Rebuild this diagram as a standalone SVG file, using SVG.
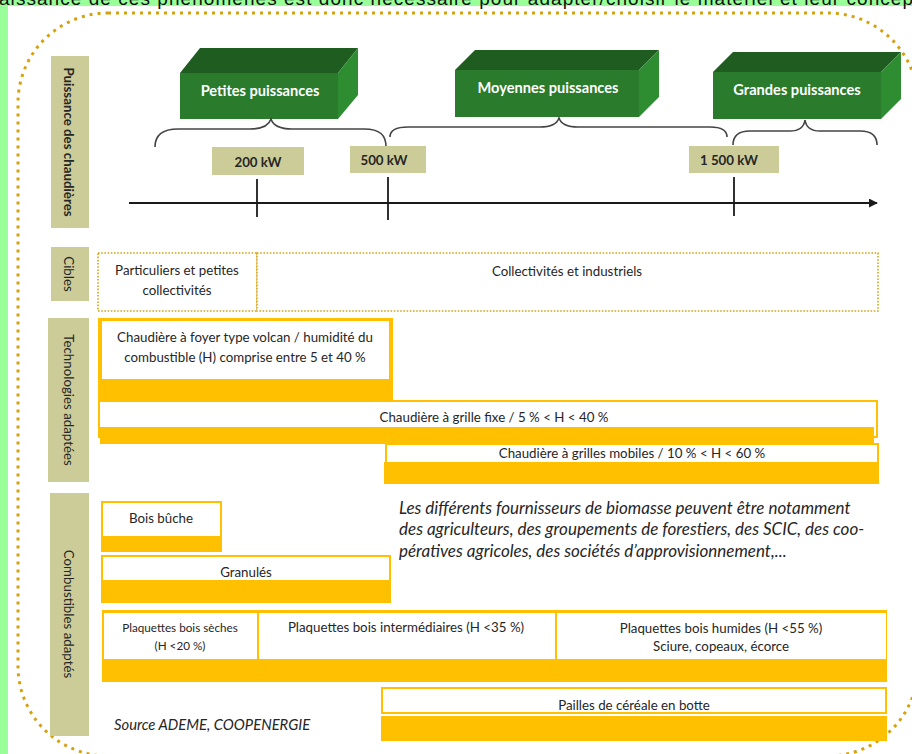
<svg xmlns="http://www.w3.org/2000/svg" width="912" height="754" viewBox="0 0 912 754">
<defs>
<style>
.t{font-family:Lato,"Liberation Sans",sans-serif;font-size:13.3px;fill:#262626;text-anchor:middle;dominant-baseline:central}
.b{font-weight:bold}
.w{fill:#ffffff;font-size:14.6px;font-weight:bold}
.it{font-family:Lato,"Liberation Sans",sans-serif;font-style:italic;font-size:17px;fill:#262626}
.side{fill:#cccc99}
.val{fill:#cccc99}
.gold{fill:#ffc000}
.gbox{fill:#ffffff;stroke:#ffc000;stroke-width:2}
.dot{fill:#ffffff;stroke:#d6a31a;stroke-width:1.6;stroke-dasharray:1.6 1.6}
.ftop{fill:#1f5c20}
.ffront{fill:#2a7b2b}
.fright{fill:#2f8d31}
.brace{fill:none;stroke:#444444;stroke-width:1.6}
.axis{stroke:#1a1a1a;stroke-width:1.8;fill:none}
</style>
<marker id="arr" viewBox="0 0 10 10" refX="9" refY="5" markerWidth="5" markerHeight="5" orient="auto" markerUnits="strokeWidth">
<path d="M0,0 L10,5 L0,10 Z" fill="#1a1a1a"/>
</marker>
</defs>

<rect x="0" y="0" width="912" height="754" fill="#99ff99"/>
<rect x="8" y="6" width="904" height="748" fill="#ffffff"/>
<text x="-1" y="5" textLength="914" lengthAdjust="spacing" style="font-family:'Liberation Sans',sans-serif;font-size:19px;fill:#111">aissance de ces phénomènes est donc nécessaire pour adapter/choisir le matériel et leur concep</text>

<rect x="18" y="13" width="900" height="743" rx="90" ry="90" fill="none" stroke="#d4a20f" stroke-width="3" stroke-dasharray="3 5"/>

<!-- side labels -->
<g id="side-puissance">
<rect class="side" x="51" y="56" width="38" height="172"/>
<text class="t b" transform="translate(69,142) rotate(90)">Puissance des chaudières</text>
</g>
<g id="side-cibles">
<rect class="side" x="51" y="247" width="38" height="54"/>
<text class="t" transform="translate(69,274) rotate(90)">Cibles</text>
</g>
<g id="side-techno">
<rect class="side" x="48" y="318" width="41" height="164"/>
<text class="t" transform="translate(69,400) rotate(90)">Technologies adaptées</text>
</g>
<g id="side-combustibles">
<rect class="side" x="50" y="493" width="39" height="243"/>
<text class="t" transform="translate(69,614) rotate(90)">Combustibles adaptés</text>
</g>

<!-- 3D boxes -->
<g id="box-petites">
<polygon class="ftop" points="180,73 200,48 358,48 338,73"/>
<polygon class="fright" points="338,73 358,48 358,95 338,119"/>
<rect class="ffront" x="180" y="73" width="158" height="46"/>
<text class="t w" x="260" y="90">Petites puissances</text>
</g>
<g id="box-moyennes">
<polygon class="ftop" points="455,70 475,50 659,50 639,70"/>
<polygon class="fright" points="639,70 659,50 659,97 639,117"/>
<rect class="ffront" x="455" y="70" width="184" height="47"/>
<text class="t w" x="548" y="87">Moyennes puissances</text>
</g>
<g id="box-grandes">
<polygon class="ftop" points="713,72 733,52 901,52 881,72"/>
<polygon class="fright" points="881,72 901,52 901,99 881,119"/>
<rect class="ffront" x="713" y="72" width="168" height="47"/>
<text class="t w" x="797" y="89">Grandes puissances</text>
</g>

<!-- connectors: braces, axis, ticks -->
<g id="connectors">
<path class="brace" d="M155,147 C155,135 162,129 178,129 L250,129 C262,129 269,125 271,119 C273,125 280,129 292,129 L364,129 C380,129 386,135 386,147"/>
<path class="brace" d="M390,137 C390,131 396,127 408,127 L540,127 C552,127 557,124 559,118 C561,124 566,127 578,127 L710,127 C722,127 727,131 727,137"/>
<path class="brace" d="M733,145 C733,136 738,131 750,131 L790,131 C800,131 804,127 805,120 C806,127 810,131 820,131 L860,131 C872,131 877,136 877,145"/>
<line class="axis" x1="129" y1="203" x2="877" y2="203" marker-end="url(#arr)"/>
<line class="axis" x1="257" y1="179" x2="257" y2="217"/>
<line class="axis" x1="388" y1="177" x2="388" y2="220"/>
<line class="axis" x1="734" y1="177" x2="734" y2="216"/>
</g>

<!-- values -->
<g id="v200">
<rect class="val" x="212" y="147" width="92" height="28"/>
<text class="t b" x="258" y="162">200 kW</text>
</g>
<g id="v500">
<rect class="val" x="350" y="146" width="76" height="27"/>
<text class="t b" x="384" y="160">500 kW</text>
</g>
<g id="v1500">
<rect class="val" x="689" y="146" width="90" height="27"/>
<text class="t b" x="729" y="160">1 500 kW</text>
</g>

<!-- cibles -->
<g id="cible-particuliers">
<rect class="dot" x="98" y="253" width="159" height="58"/>
<text class="t" x="177" y="270">Particuliers et petites</text>
<text class="t" x="177" y="290">collectivités</text>
</g>
<g id="cible-collectivites">
<rect class="dot" x="257" y="253" width="621" height="58"/>
<text class="t" x="567" y="271">Collectivités et industriels</text>
</g>

<!-- technologies -->
<g id="tech-volcan">
<rect class="gold" x="98" y="318" width="295" height="86"/>
<rect fill="#ffffff" x="102" y="321" width="287" height="58"/>
<text class="t" x="245" y="337">Chaudière à foyer type volcan / humidité du</text>
<text class="t" x="245" y="357">combustible (H) comprise entre 5 et 40 %</text>
</g>
<g id="tech-grille-fixe">
<rect class="gbox" x="99" y="401" width="778" height="36"/>
<rect class="gold" x="100" y="427" width="774" height="17"/>
<text class="t" x="494" y="417">Chaudière à grille fixe / 5 % &lt; H &lt; 40 %</text>
</g>
<g id="tech-grilles-mobiles">
<rect class="gbox" x="386" y="444" width="492" height="20"/>
<rect class="gold" x="384" y="462" width="495" height="22"/>
<text class="t" x="632" y="453">Chaudière à grilles mobiles / 10 % &lt; H &lt; 60 %</text>
</g>

<!-- combustibles -->
<g id="comb-buche">
<rect class="gold" x="101" y="501" width="121" height="51"/>
<rect fill="#ffffff" x="103" y="503" width="117" height="33"/>
<text class="t" x="161" y="518">Bois bûche</text>
</g>
<g id="comb-granules">
<rect class="gold" x="101" y="555" width="290" height="48"/>
<rect fill="#ffffff" x="103" y="557" width="286" height="23"/>
<text class="t" x="246" y="572">Granulés</text>
</g>
<g id="comb-plaquettes">
<rect class="gold" x="102" y="610" width="785" height="72"/>
<rect fill="#ffffff" x="104" y="613" width="153" height="46"/>
<rect fill="#ffffff" x="259" y="613" width="296" height="46"/>
<rect fill="#ffffff" x="557" y="613" width="329" height="46"/>
<text class="t" x="180" y="627" style="font-size:11.7px">Plaquettes bois sèches</text>
<text class="t" x="180" y="645" style="font-size:11.7px">(H &lt;20 %)</text>
<text class="t" x="406" y="627">Plaquettes bois intermédiaires (H &lt;35 %)</text>
<text class="t" x="721" y="628">Plaquettes bois humides (H &lt;55 %)</text>
<text class="t" x="721" y="646">Sciure, copeaux, écorce</text>
</g>
<g id="comb-pailles">
<rect class="gbox" x="382" y="688" width="504" height="25"/>
<rect class="gold" x="381" y="716" width="506" height="25"/>
<text class="t" x="634" y="705">Pailles de céréale en botte</text>
</g>

<!-- notes -->
<g id="note-fournisseurs">
<text class="it" x="399" y="514">Les différents fournisseurs de biomasse peuvent être notamment</text>
<text class="it" x="399" y="535">des agriculteurs, des groupements de forestiers, des SCIC, des coo-</text>
<text class="it" x="399" y="557">pératives agricoles, des sociétés d’approvisionnement,...</text>
</g>
<g id="note-source">
<text class="it" x="114" y="730" style="font-size:14.8px">Source ADEME, COOPENERGIE</text>
</g>
</svg>
